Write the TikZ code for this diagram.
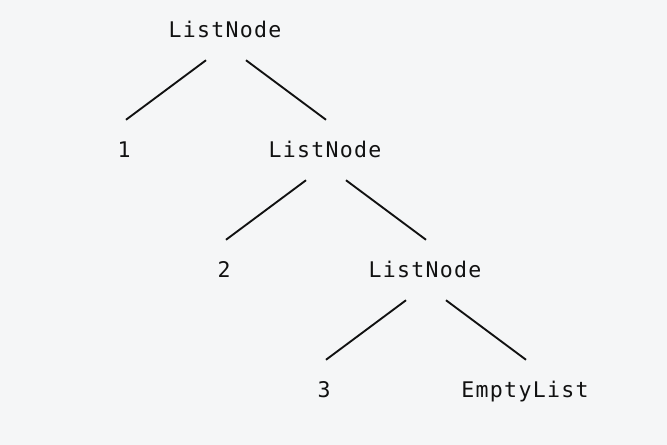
\documentclass[tikz,border=0pt]{standalone}
\usepackage{fontspec}
\newfontfamily\treefont[LetterSpace=6]{DejaVu Sans Mono}
\definecolor{bgpaper}{HTML}{F5F6F7}
\definecolor{inkline}{HTML}{111111}
\tikzset{
	term/.style={inner sep=0pt, minimum height=1.8cm, text height=1.3em, text depth=0pt,
		font=\treefont\fontsize{18.4pt}{20pt}\selectfont, text=inkline},
	branch/.style={inkline, line width=1.6pt}
}
\begin{document}
\begin{tikzpicture}[x=0.03cm, y=-0.03cm]
			\fill[bgpaper] (0,0) rectangle (667,445);
			\useasboundingbox (0,0) rectangle (667,445);
			% spine of the list
			\node[term] (cons1) at (225,30) {ListNode};
			\node[term] (head1) at (124,150) {1};
			\node[term] (cons2) at (325,150) {ListNode};
			\node[term] (head2) at (224,270) {2};
			\node[term] (cons3) at (425,270) {ListNode};
			\node[term] (head3) at (324,390) {3};
			\node[term] (nil) at (525,390) {EmptyList};
			% branches
			\draw[branch] ([xshift=-19*0.03cm]cons1.south) -- ([xshift=2*0.03cm]head1.north);
			\draw[branch] ([xshift=21*0.03cm]cons1.south) -- ([xshift=1*0.03cm]cons2.north);
			\draw[branch] ([xshift=-19*0.03cm]cons2.south) -- ([xshift=2*0.03cm]head2.north);
			\draw[branch] ([xshift=21*0.03cm]cons2.south) -- ([xshift=1*0.03cm]cons3.north);
			\draw[branch] ([xshift=-19*0.03cm]cons3.south) -- ([xshift=2*0.03cm]head3.north);
			\draw[branch] ([xshift=21*0.03cm]cons3.south) -- ([xshift=1*0.03cm]nil.north);
		\end{tikzpicture}
\end{document}
